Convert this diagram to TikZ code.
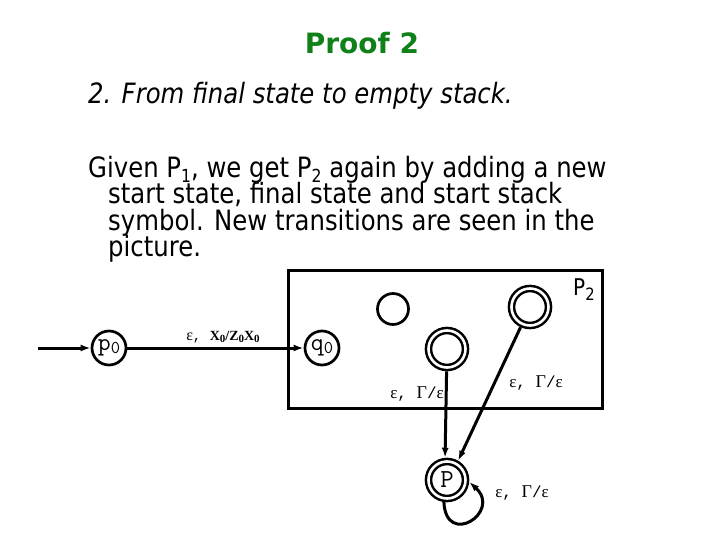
\documentclass[tikz,border=0pt]{standalone}
\usepackage{fontspec}
\usetikzlibrary{arrows.meta}
\newfontfamily\tah{DejaVu Sans}[FakeStretch=0.87]
\newfontfamily\titlefont{DejaVu Sans}
\newfontfamily\mono{Liberation Mono}
\newfontfamily\rmgr{Liberation Serif}
\definecolor{titlegreen}{RGB}{16,128,24}
\newcommand\bsub[1]{\raisebox{-5pt}{\fontsize{18}{18}\selectfont #1}}
\newcommand\zsub[1]{\raisebox{-3pt}{\ttfamily\fontsize{18}{18}\selectfont #1}}
\newcommand\egelab{{\rmgr\fontsize{17}{17}\selectfont ε}{\mono\fontsize{16}{16}\selectfont, }{\rmgr\fontsize{18}{18}\selectfont Γ}{\mono\fontsize{16}{16}\selectfont/}{\rmgr\fontsize{17}{17}\selectfont ε}}
\begin{document}
\begin{tikzpicture}[x=1pt,y=-1pt,
  st/.style={circle, draw, line width=2.7pt, minimum size=34pt, inner sep=0pt},
  fin/.style={circle, draw, line width=2.5pt, double, double distance=2.6pt, minimum size=37pt, inner sep=0pt, outer sep=3.8pt},
  edgearrow/.style={line width=3pt, -{Latex[length=10pt,width=7pt]}},
  lab/.style={inner sep=0pt, anchor=base},
  txt/.style={inner sep=0pt, anchor=base west, font=\tah\fontsize{28}{28}\selectfont},
  statelab/.style={font=\ttfamily\fontsize{25}{25}\selectfont}
]
\useasboundingbox (0,0) rectangle (721,541);

% title and text
\node[lab, font=\titlefont\bfseries\fontsize{28}{28}\selectfont, text=titlegreen] (title) at (362,53) {Proof 2};
\node[txt, font=\tah\itshape\fontsize{28}{28}\selectfont] (sub) at (88,103) {2. From final state to empty stack.};
\node[txt] (l1) at (88,177) {Given P\bsub{1}, we get P\bsub{2} again by adding a new};
\node[txt] (l2) at (108,203.5) {start state, final state and start stack};
\node[txt] (l3) at (108,230) {symbol. New transitions are seen in the};
\node[txt] (l4) at (108,256.5) {picture.};

% box P2
\node[draw, line width=3pt, minimum width=314pt, minimum height=138pt, inner sep=0pt] (box) at (445,339) {};
\node[inner sep=0pt, anchor=base west, font=\tah\fontsize{23}{23}\selectfont] (p2) at (573,295) {P\raisebox{-5pt}{\fontsize{17}{17}\selectfont 2}};

% states
\node[st, statelab] (p0) at (109,348) {p\zsub{0}};
\node[st, statelab] (q0) at (322,348) {q\zsub{0}};
\node[st, minimum size=31pt] (e) at (393,309) {};
\node[fin] (tr) at (530,307) {};
\node[fin] (m) at (447,349) {};
\node[fin, font=\ttfamily\fontsize{26}{26}\selectfont] (P) at (447,480) {P};

% edges
\coordinate (start) at (38,348);
\draw[edgearrow] (start) -- (p0);
\draw[edgearrow] (p0) -- (q0);
\draw[edgearrow] (m) -- (P.95);
\draw[edgearrow] (tr) -- (P.60);
\draw[edgearrow] (P.262) .. controls (446,548) and (502,512) .. (P.-5);

% labels
\node[lab] (lpq) at (223,340) {{\rmgr\fontsize{16}{16}\selectfont ε}{\mono\fontsize{14}{14}\selectfont, }{\rmgr\bfseries\fontsize{14}{14}\selectfont X\raisebox{-2pt}{\fontsize{11}{11}\selectfont 0}/Z\raisebox{-2pt}{\fontsize{11}{11}\selectfont 0}X\raisebox{-2pt}{\fontsize{11}{11}\selectfont 0}}};
\node[lab] (lm) at (417,398) {\egelab};
\node[lab] (ltr) at (536,387) {\egelab};
\node[lab] (lloop) at (522,497) {\egelab};
\end{tikzpicture}
\end{document}
